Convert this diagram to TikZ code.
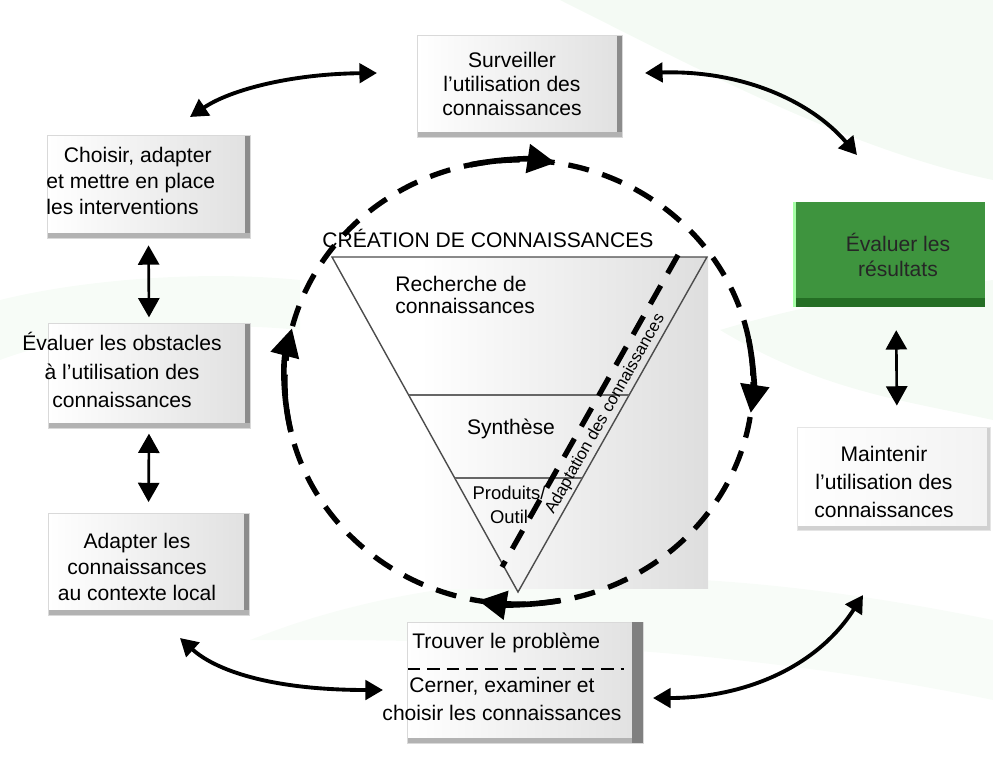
\documentclass[tikz,border=0pt]{standalone}
\usepackage{fontspec}
\setmainfont{Liberation Sans}
\usetikzlibrary{arrows.meta,calc,fit}

\definecolor{vertboite}{RGB}{62,148,62}
\definecolor{vertsombre}{RGB}{36,110,36}
\definecolor{fondvert}{RGB}{236,247,236}

\tikzset{
  boite/.style={rectangle, inner sep=0pt, draw=black!15, left color=white, right color=black!12,
    path picture={
      \fill[black!45] ([xshift=-3pt]path picture bounding box.north east) rectangle (path picture bounding box.south east);
      \fill[black!30] (path picture bounding box.south west) rectangle ([yshift=3pt]path picture bounding box.south east);}},
  boiteclaire/.style={rectangle, inner sep=0pt, draw=black!10, left color=white, right color=black!5,
    path picture={
      \fill[black!18] ([xshift=-2pt]path picture bounding box.north east) rectangle (path picture bounding box.south east);
      \fill[black!18] (path picture bounding box.south west) rectangle ([yshift=2pt]path picture bounding box.south east);}},
  boiteverte/.style={rectangle, inner sep=0pt, fill=vertboite,
    path picture={
      \fill[vertsombre] (path picture bounding box.south west) rectangle ([yshift=5pt]path picture bounding box.south east);
      \fill[green!35!white] (path picture bounding box.south west) rectangle ([xshift=1.5pt]path picture bounding box.north west);}},
  texte/.style={align=center, inner sep=0pt, font=\fontsize{12}{15}\selectfont},
  fleche/.style={line width=2.2pt, {Triangle[length=10pt,width=11pt]}-{Triangle[length=10pt,width=11pt]}},
  flechev/.style={line width=1.5pt, {Triangle[length=11pt,width=12pt]}-{Triangle[length=11pt,width=12pt]}},
  tirets/.style={line width=3pt, dash pattern=on 12pt off 8pt},
  boucle/.style={line width=3.2pt, -{Triangle[length=16pt,width=16pt]}}
}

\begin{document}
\begin{tikzpicture}[x=0.02cm, y=-0.02cm]
\useasboundingbox (0,0) rectangle (993,778);
% fond vert pale
\fill[fondvert, opacity=.6] (560,0) .. controls (700,70) and (850,150) .. (993,180) -- (993,0) -- cycle;
\fill[fondvert, opacity=.5] (720,330) .. controls (820,300) and (900,290) .. (993,280) -- (993,420) .. controls (900,400) and (820,390) .. (720,330) -- cycle;
\fill[fondvert, opacity=.4] (0,300) .. controls (80,280) and (200,270) .. (300,280) -- (300,330) .. controls (200,320) and (80,330) .. (0,360) -- cycle;
\fill[fondvert, opacity=.35] (250,640) .. controls (450,560) and (700,560) .. (993,620) -- (993,700) .. controls (700,640) and (450,640) .. (250,640) -- cycle;

% creation de connaissances
\fill[left color=white, right color=black!13] (420,257) rectangle (708,588);
\coordinate (tA) at (332,257);
\coordinate (tB) at (707,257);
\coordinate (tC) at (518,592);
\draw[black!70, line width=0.8pt] (tA) -- (tB) -- (tC) -- cycle;
\draw[black!60, line width=0.8pt] ($(tA)!0.412!(tC)$) -- ($(tB)!0.412!(tC)$);
\draw[black!60, line width=0.8pt] ($(tA)!0.66!(tC)$) -- ($(tB)!0.66!(tC)$);
\node[texte, font=\fontsize{12}{14}\selectfont] (creation) at (488,238) {CRÉATION DE CONNAISSANCES};
\node[texte, align=left, anchor=west, font=\fontsize{12}{13}\selectfont] (recherche) at (395,295) {Recherche de\\connaissances};
\node[texte] (synthese) at (511,429) {Synthèse};
\node[texte, font=\fontsize{10.5}{13.5}\selectfont] (produits) at (509,505) {Produits/\\Outil};
\node[inner sep=1pt, anchor=south, rotate=60.6, font=\fontsize{9.5}{11}\selectfont] (adaptation) at (614,419) {Adaptation des connaissances};
\draw[tirets] (678,255) -- (502,567);

% cycle
\coordinate (centre) at (519,382);
\draw[tirets] (centre) ellipse [x radius=234, y radius=222];
\draw[boucle] (centre) ++(258:234 and 222) arc [start angle=258, end angle=279, x radius=234, y radius=222];
\draw[boucle] (centre) ++(-11:234 and 222) arc [start angle=-11, end angle=8, x radius=234, y radius=222];
\draw[boucle] (centre) ++(80:234 and 222) arc [start angle=80, end angle=100, x radius=234, y radius=222];
\draw[boucle] (centre) ++(167:234 and 222) arc [start angle=167, end angle=194, x radius=234, y radius=222];

% boites
\node[boite, fit={(417,35) (622,137)}] (surv) {};
\node[texte, font=\fontsize{12}{13.6}\selectfont] (survT) at (512,84) {Surveiller\\l'utilisation des\\connaissances};

\node[boite, fit={(47,135) (250,238)}] (choisir) {};
\node[texte, align=left, anchor=west] (choisirT) at (46,181) {\hspace*{10pt}Choisir, adapter\\et mettre en place\\les interventions};

\node[boite, fit={(48,323) (250,428)}] (obst) {};
\node[texte, font=\fontsize{12}{16.4}\selectfont] (obstT) at (122,370) {Évaluer les obstacles\\à l'utilisation des\\connaissances};

\node[boite, fit={(48,513) (249,615)}] (adapt) {};
\node[texte] (adaptT) at (137,567) {Adapter les\\connaissances\\au contexte local};

\node[boite, fit={(407,622) (643,743)}] (trouv) {};
\fill[black!50] ($(trouv.north east)+(-11,0)$) rectangle (trouv.south east);
\node[texte, anchor=west] (trouvT) at (412,643) {Trouver le problème};
\draw[line width=1.6pt, dash pattern=on 7pt off 4pt] (408,669) -- (624,669);
\node[texte, font=\fontsize{12}{16}\selectfont] (cernerT) at (502,699) {Cerner, examiner et\\choisir les connaissances};

\node[boiteverte, fit={(793,202) (985,307)}] (vert) {};
\node[texte, font=\fontsize{12}{14.7}\selectfont, text=black!85] (vertT) at (898,255) {Évaluer les\\résultats};

\node[boiteclaire, fit={(797,427) (990,530)}] (maint) {};
\node[texte, font=\fontsize{12}{16}\selectfont] (maintT) at (884,482) {Maintenir\\l'utilisation des\\connaissances};

% fleches
\draw[flechev, shorten <=4pt, shorten >=3pt] (choisir.south) -- (obst.north);
\draw[flechev, shorten <=3pt, shorten >=6pt] (obst.south) -- (adapt.north);
\draw[flechev, shorten <=13pt, shorten >=12pt] ([xshift=4pt]vert.south) -- ([xshift=2pt]maint.north);

\coordinate (a1) at (190,117);
\coordinate (a2) at (377,73);
\coordinate (b1) at (645,73);
\coordinate (b2) at (857,155);
\coordinate (c1) at (180,638);
\coordinate (c2) at (383,690);
\coordinate (d1) at (653,698);
\coordinate (d2) at (863,595);
\draw[fleche] (a1) .. controls (230,90) and (290,74) .. (a2);
\draw[fleche] (b1) .. controls (740,70) and (810,100) .. (b2);
\draw[fleche] (c1) .. controls (215,670) and (270,690) .. (c2);
\draw[fleche] (d1) .. controls (740,698) and (815,670) .. (d2);
\end{tikzpicture}
\end{document}
